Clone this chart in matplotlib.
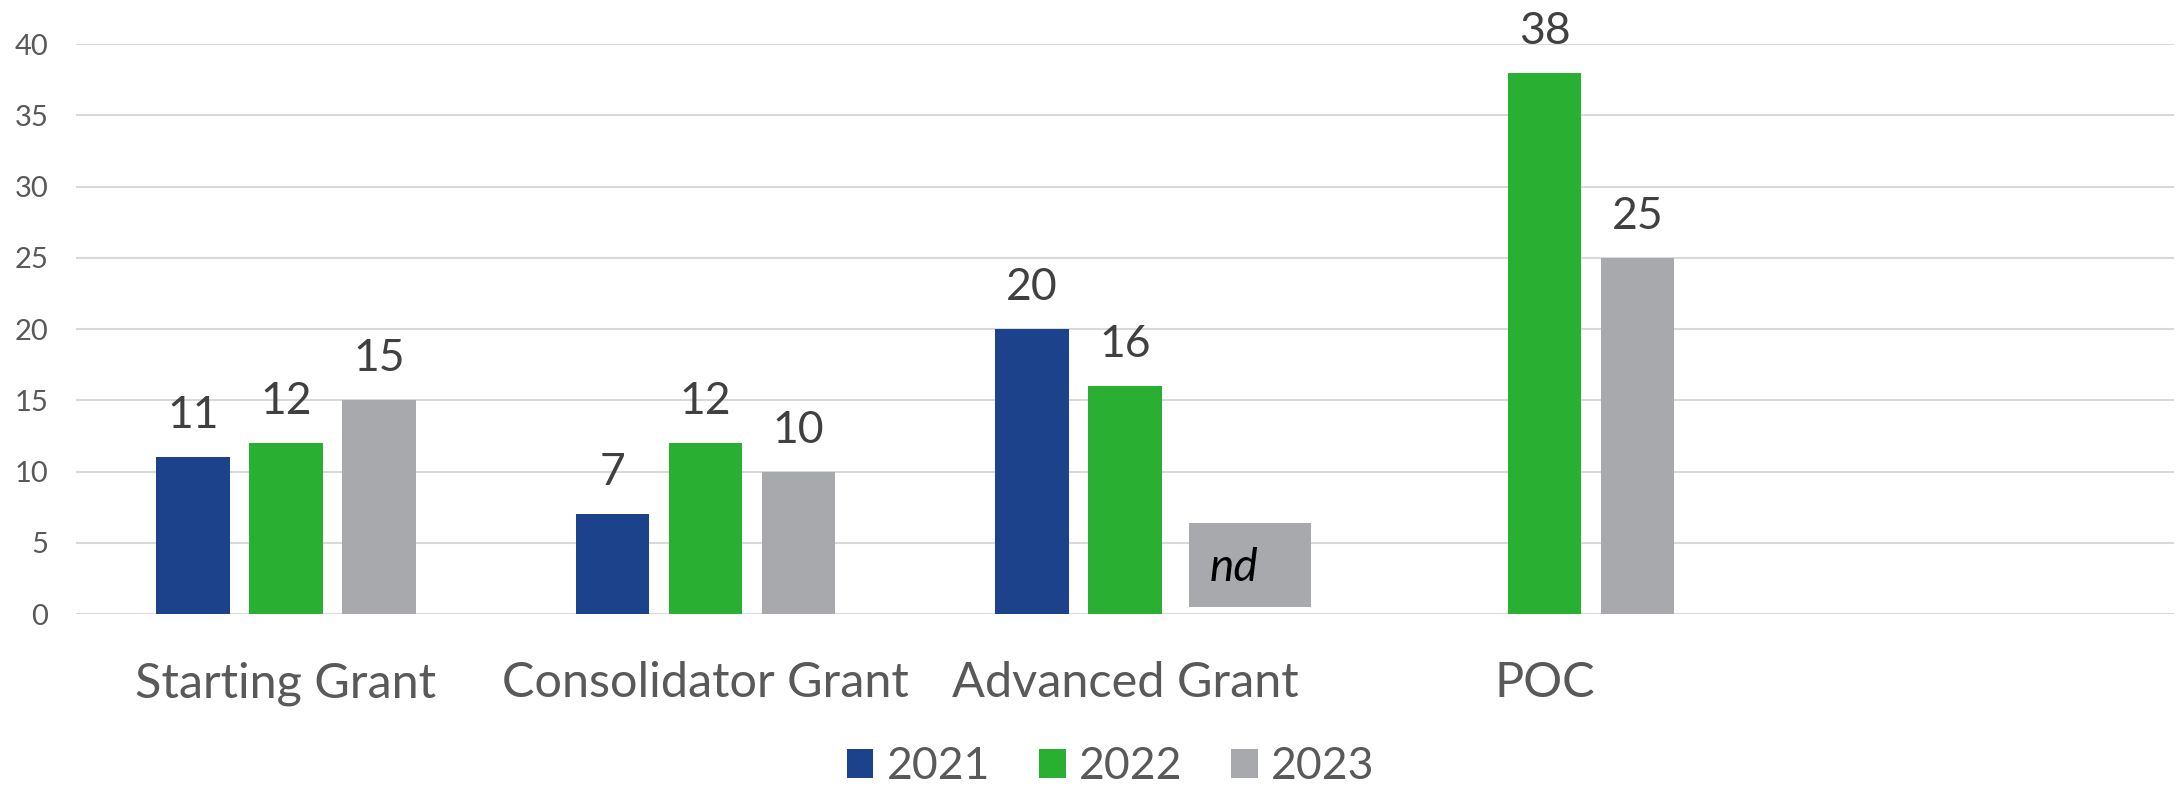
import numpy as np
import matplotlib.pyplot as plt
from matplotlib.patches import Rectangle

# chart values
categories = ['Starting Grant', 'Consolidator Grant', 'Advanced Grant', 'POC', '']
years = ['2021', '2022', '2023']
values_2021 = [11, 7, 20, np.nan, np.nan]
values_2022 = [12, 12, 16, 38, np.nan]
values_2023 = [15, 10, np.nan, 25, np.nan]
colors = ['#1B428A', '#29B033', '#A8A9AD']

plt.rcParams['font.family'] = ['Lato', 'DejaVu Sans']

fig = plt.figure(figsize=(21.78, 7.92), dpi=100)
ax = fig.add_axes([0.035, 0.2247, 0.963, 0.7197])

x = np.arange(len(categories))
width = 0.175
offset = 0.222
series = [values_2021, values_2022, values_2023]

for i, (vals, col, yr) in enumerate(zip(series, colors, years)):
    pos = x + (i - 1) * offset
    ax.bar(pos, vals, width, color=col, label=yr, zorder=3)
    for p, v in zip(pos, vals):
        if not np.isnan(v):
            ax.annotate(f'{v:g}', (p, v), xytext=(0, 15), textcoords='offset points',
                        ha='center', va='bottom', fontsize=32, color='#404040',
                        annotation_clip=False)

# "nd" box in place of the Advanced Grant 2023 bar
slot = 2 + offset
ax.add_patch(Rectangle((slot - 0.069, 0.5), 0.29, 5.9, facecolor='#A8A9AD',
                       edgecolor='none', zorder=3))
ax.text(slot - 0.019, 2.3, 'nd', ha='left', va='baseline', fontsize=33,
        style='italic', color='black', zorder=4)

ax.set_xlim(-0.5, len(categories) - 0.5)
ax.set_ylim(0, 40)
ax.set_yticks(range(0, 41, 5))
ax.set_xticks(x)
ax.set_xticklabels(categories)
ax.tick_params(axis='y', length=0, pad=20, labelsize=21, labelcolor='#595959')
ax.tick_params(axis='x', length=0, pad=34, labelsize=35, labelcolor='#595959')
ax.grid(axis='y', color='#D9D9D9', linewidth=1.5, zorder=0)
for s in ax.spines.values():
    s.set_visible(False)

leg = fig.legend(loc='center', bbox_to_anchor=(0.51, 0.032), ncol=3, frameon=False,
                 fontsize=32, handlelength=0.6, handleheight=0.6, handletextpad=0.3,
                 columnspacing=1.1)
for t in leg.get_texts():
    t.set_color('#595959')

fig.savefig('out.png', dpi=100)
